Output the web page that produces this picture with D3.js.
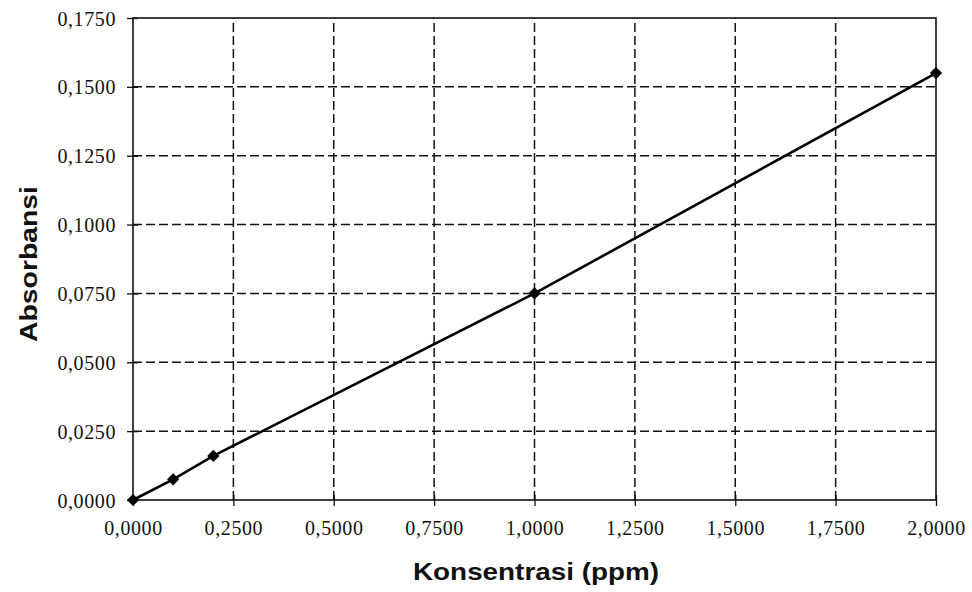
<!DOCTYPE html>
<html>
<head>
<meta charset="utf-8">
<script src="https://cdn.jsdelivr.net/npm/d3@7"></script>
<style>
  body { margin: 0; background: #fff; }
</style>
</head>
<body>
<div id="chart"></div>
<script>
// data
var konsentrasi = [0, 0.1, 0.2, 1.0, 2.0];
var absorbansi = [0, 0.0075, 0.016, 0.075, 0.155];
var xTicks = [0, 0.25, 0.5, 0.75, 1.0, 1.25, 1.5, 1.75, 2.0];
var yTicks = [0, 0.025, 0.05, 0.075, 0.1, 0.125, 0.15, 0.175];

var W = 972, H = 592;
var m = {left: 133, top: 18, right: 36, bottom: 92};

var svg = d3.select('#chart').append('svg')
  .attr('width', W).attr('height', H);

var x = d3.scaleLinear().domain([0, 2]).range([m.left, W - m.right]);
var y = d3.scaleLinear().domain([0, 0.175]).range([H - m.bottom, m.top]);

var fmt = function(d) { return d3.format('.4f')(d).replace('.', ','); };

// grid lines (dashed)
svg.append('g').selectAll('line')
  .data(xTicks.slice(1, -1))
  .join('line')
  .attr('x1', d => x(d)).attr('x2', d => x(d))
  .attr('y1', y(0)).attr('y2', y(0.175))
  .style('stroke', '#111').style('stroke-width', 1.5)
  .style('stroke-dasharray', '9,4');
svg.append('g').selectAll('line')
  .data(yTicks.slice(1, -1))
  .join('line')
  .attr('x1', x(0)).attr('x2', x(2))
  .attr('y1', d => y(d)).attr('y2', d => y(d))
  .style('stroke', '#111').style('stroke-width', 1.5)
  .style('stroke-dasharray', '9,4');

// plot frame
svg.append('rect')
  .attr('x', x(0)).attr('y', y(0.175))
  .attr('width', x(2) - x(0)).attr('height', y(0) - y(0.175))
  .style('fill', 'none').style('stroke', '#111').style('stroke-width', 1.6);

// axes (crossing ticks)
var xAxis = svg.append('g')
  .attr('transform', 'translate(0,' + y(0) + ')')
  .call(d3.axisBottom(x).tickValues(xTicks).tickFormat(fmt).tickSizeInner(6).tickSizeOuter(0).tickPadding(15));
var yAxis = svg.append('g')
  .attr('transform', 'translate(' + x(0) + ',0)')
  .call(d3.axisLeft(y).tickValues(yTicks).tickFormat(fmt).tickSizeInner(6).tickSizeOuter(0).tickPadding(11));

[xAxis, yAxis].forEach(function(a) {
  a.select('.domain').remove();
  a.attr('font-family', null).attr('font-size', null);
  a.selectAll('.tick line').style('stroke', '#111').style('stroke-width', 1.3);
  a.selectAll('.tick text')
    .style('font-family', '"Liberation Serif", "Times New Roman", serif')
    .style('font-size', '20px')
    .style('letter-spacing', '0.6px')
    .attr('fill', '#111');
});
xAxis.selectAll('.tick line').attr('y1', -5);
yAxis.selectAll('.tick line').attr('x1', 5).attr('x2', -6);
yAxis.selectAll('.tick text').attr('dy', '0.35em');

// series line
var pts = konsentrasi.map((d, i) => [d, absorbansi[i]]);
svg.append('path')
  .datum(pts)
  .attr('d', d3.line().x(d => x(d[0])).y(d => y(d[1])))
  .style('fill', 'none').style('stroke', '#000').style('stroke-width', 2.6);

// diamond markers
svg.append('g').selectAll('path')
  .data(pts)
  .join('path')
  .attr('transform', d => 'translate(' + x(d[0]) + ',' + y(d[1]) + ')')
  .attr('d', d3.symbol().type(d3.symbolDiamond2).size(95))
  .style('fill', '#000');

// axis titles
var titleFont = function(t) {
  t.style('font-family', '"Liberation Sans", Arial, sans-serif')
    .style('font-size', '24px').style('font-weight', 'bold')
    .attr('fill', '#111').attr('text-anchor', 'middle')
    .attr('lengthAdjust', 'spacingAndGlyphs');
};
svg.append('text').call(titleFont)
  .attr('x', 536).attr('y', 580)
  .attr('textLength', 246)
  .text('Konsentrasi (ppm)');
svg.append('text').call(titleFont)
  .attr('transform', 'translate(37,264) rotate(-90)')
  .attr('textLength', 156)
  .text('Absorbansi');
</script>
</body>
</html>
